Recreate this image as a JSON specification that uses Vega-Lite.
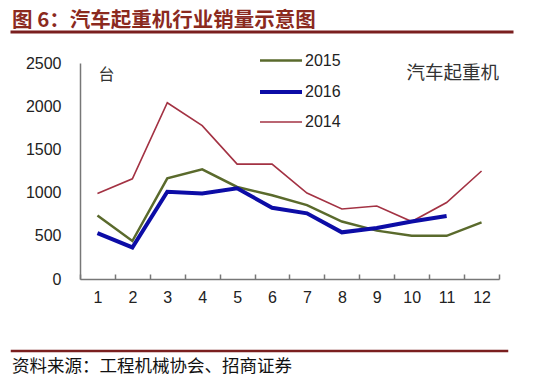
{
  "$schema": "https://vega.github.io/schema/vega-lite/v6.json",
  "padding": {"left": 10, "top": 9, "right": 0, "bottom": 0},
  "background": "white",
  "spacing": 16,
  "config": {"view": {"stroke": null}, "font": "Liberation Sans"},
  "vconcat": [
    {
      "data": {"values": [{"t": ""}]},
      "width": 500,
      "height": 0.001,
      "view": {"stroke": "#7a1f1f", "strokeWidth": 3},
      "title": {"text": "图 6：汽车起重机行业销量示意图", "anchor": "start", "font": "Noto Sans CJK SC", "fontSize": 20.5, "fontWeight": "bold", "color": "#8B2A1E", "offset": -5},
      "mark": {"type": "text"},
      "encoding": {"text": {"field": "t"}}
    },
    {
      "spacing": 12,
      "hconcat": [
        {
          "data": {"values": [{"t": ""}]},
          "width": 1,
          "height": 264,
          "mark": {"type": "text"},
          "encoding": {"text": {"field": "t"}}
        },
        {
          "width": 419,
          "height": 216,
          "layer": [
            {
              "data": {"values": [
                {"month": 1, "year": "2014", "value": 990},
                {"month": 2, "year": "2014", "value": 1160},
                {"month": 3, "year": "2014", "value": 2040},
                {"month": 4, "year": "2014", "value": 1775},
                {"month": 5, "year": "2014", "value": 1330},
                {"month": 6, "year": "2014", "value": 1330},
                {"month": 7, "year": "2014", "value": 995},
                {"month": 8, "year": "2014", "value": 810},
                {"month": 9, "year": "2014", "value": 845},
                {"month": 10, "year": "2014", "value": 665},
                {"month": 11, "year": "2014", "value": 885},
                {"month": 12, "year": "2014", "value": 1250},
                {"month": 1, "year": "2015", "value": 735},
                {"month": 2, "year": "2015", "value": 440},
                {"month": 3, "year": "2015", "value": 1165},
                {"month": 4, "year": "2015", "value": 1270},
                {"month": 5, "year": "2015", "value": 1065},
                {"month": 6, "year": "2015", "value": 970},
                {"month": 7, "year": "2015", "value": 855},
                {"month": 8, "year": "2015", "value": 665},
                {"month": 9, "year": "2015", "value": 560},
                {"month": 10, "year": "2015", "value": 500},
                {"month": 11, "year": "2015", "value": 500},
                {"month": 12, "year": "2015", "value": 655},
                {"month": 1, "year": "2016", "value": 530},
                {"month": 2, "year": "2016", "value": 365},
                {"month": 3, "year": "2016", "value": 1010},
                {"month": 4, "year": "2016", "value": 990},
                {"month": 5, "year": "2016", "value": 1050},
                {"month": 6, "year": "2016", "value": 825},
                {"month": 7, "year": "2016", "value": 760},
                {"month": 8, "year": "2016", "value": 540},
                {"month": 9, "year": "2016", "value": 590},
                {"month": 10, "year": "2016", "value": 665},
                {"month": 11, "year": "2016", "value": 730}
              ]},
              "mark": {"type": "line", "strokeJoin": "miter"},
              "encoding": {
                "x": {"field": "month", "type": "ordinal",
                  "scale": {"paddingInner": 0, "paddingOuter": 0},
                  "axis": {"title": null, "labelAngle": 0, "labelFontSize": 16, "labelColor": "#222", "labelPadding": 15,
                    "tickBand": "extent", "tickSize": -5, "tickColor": "#777", "tickWidth": 1.5,
                    "domainColor": "#777", "domainWidth": 1.5, "grid": false}},
                "y": {"field": "value", "type": "quantitative",
                  "scale": {"domain": [0, 2500], "nice": false},
                  "axis": {"values": [0, 500, 1000, 1500, 2000, 2500], "format": "d", "grid": false, "ticks": false,
                    "labelFontSize": 16, "labelColor": "#222", "labelPadding": 19,
                    "domainColor": "#777", "domainWidth": 1.5,
                    "title": "台", "titleAngle": 0, "titleX": 18, "titleY": 11, "titleAlign": "left", "titleBaseline": "middle",
                    "titleFont": "Noto Sans CJK SC", "titleFontSize": 16, "titleFontWeight": "normal", "titleColor": "#333"}},
                "color": {"field": "year", "type": "nominal",
                  "scale": {"domain": ["2015", "2016", "2014"], "range": ["#5a6a2c", "#0c0ca6", "#a33243"]},
                  "legend": {"title": null, "orient": "none", "legendX": 246, "legendY": 6,
                    "symbolType": "stroke", "symbolSize": 1764, "rowPadding": -16.5, "labelOffset": 1,
                    "labelFontSize": 16, "labelColor": "#222"}},
                "strokeWidth": {"field": "year", "type": "nominal",
                  "scale": {"type": "ordinal", "domain": ["2015", "2016", "2014"], "range": [2.5, 4, 1.6]},
                  "legend": {"title": null, "orient": "none", "legendX": 246, "legendY": 6,
                    "symbolType": "stroke", "symbolSize": 1764, "rowPadding": -16.5, "labelOffset": 1,
                    "labelFontSize": 16, "labelColor": "#222"}}
              }
            },
            {
              "data": {"values": [{"label": "汽车起重机"}]},
              "mark": {"type": "text", "font": "Noto Sans CJK SC", "fontSize": 18.5, "color": "#333", "align": "center", "baseline": "middle", "dx": 6},
              "encoding": {
                "x": {"datum": 11, "type": "ordinal"},
                "y": {"datum": 2385, "type": "quantitative"},
                "text": {"field": "label"}
              }
            }
          ]
        }
      ]
    },
    {
      "data": {"values": [{"t": ""}]},
      "width": 495,
      "height": 0.001,
      "view": {"stroke": "#7a1f1f", "strokeWidth": 2.5},
      "title": {"text": "资料来源：工程机械协会、招商证券", "orient": "bottom", "anchor": "start", "font": "Noto Sans CJK SC", "fontSize": 17.5, "fontWeight": "normal", "color": "#111", "offset": 2},
      "mark": {"type": "text"},
      "encoding": {"text": {"field": "t"}}
    }
  ]
}
